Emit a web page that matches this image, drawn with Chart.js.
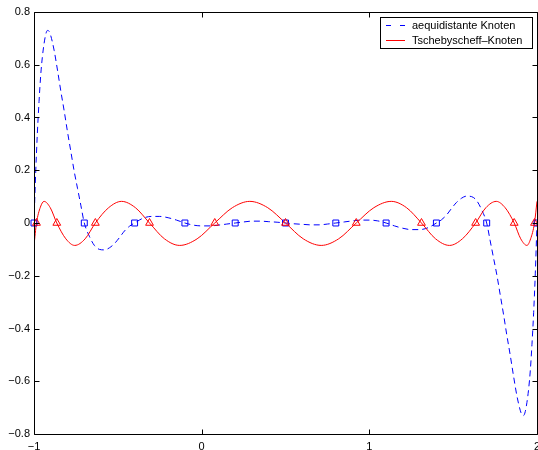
<!DOCTYPE html>
<html lang="de">
<head>
  <meta charset="UTF-8">
  <title>Interpolationsfehler</title>
  <script src="https://cdn.jsdelivr.net/npm/chart.js"></script>
</head>
<style>
  body {
      margin: 0;
      background: #fff;
  }

  #box {
      width: 538px;
      height: 450px;
  }
</style>

<body>
  <div id="box"><canvas id="grafico"></canvas></div>

<script>

  // Fehlerkurve bei aequidistanten Knoten
  const xAequi = [-1, -0.99, -0.98, -0.97, -0.96, -0.95, -0.94, -0.93, -0.92, -0.91, -0.9,
    -0.88, -0.86, -0.84, -0.82, -0.8, -0.78, -0.76, -0.74, -0.72, -0.7,
    -0.67, -0.64, -0.61, -0.58, -0.55, -0.52, -0.49, -0.46, -0.43, -0.4,
    -0.35, -0.3, -0.25, -0.2, -0.15, -0.1, -0.05, 0, 0.05, 0.1, 0.15, 0.2,
    0.25, 0.3, 0.35, 0.4, 0.45, 0.5, 0.55, 0.6, 0.65, 0.7, 0.75, 0.8,
    0.85, 0.9, 0.95, 1, 1.05, 1.1, 1.15, 1.2, 1.25, 1.3, 1.35, 1.4,
    1.43, 1.46, 1.49, 1.52, 1.55, 1.58, 1.61, 1.64, 1.67, 1.7,
    1.72, 1.74, 1.76, 1.78, 1.8, 1.82, 1.84, 1.86, 1.88, 1.9,
    1.91, 1.92, 1.93, 1.94, 1.95, 1.96, 1.97, 1.98, 1.99, 2];
  const yAequi = [0, 0.19, 0.34, 0.46, 0.56, 0.63, 0.68, 0.715, 0.73, 0.727, 0.71,
    0.655, 0.58, 0.5, 0.425, 0.345, 0.27, 0.195, 0.13, 0.065, 0,
    -0.05, -0.085, -0.1, -0.102, -0.094, -0.078, -0.055, -0.03, -0.012, 0,
    0.018, 0.025, 0.025, 0.02, 0.011, 0, -0.008, -0.011, -0.011, -0.008, -0.004, 0,
    0.004, 0.007, 0.007, 0.005, 0.003, 0, -0.003, -0.005, -0.007, -0.007, -0.004, 0,
    0.004, 0.008, 0.011, 0.011, 0.008, 0, -0.011, -0.02, -0.025, -0.025, -0.018, 0,
    0.012, 0.03, 0.055, 0.078, 0.094, 0.102, 0.1, 0.085, 0.05, 0,
    -0.065, -0.13, -0.195, -0.27, -0.345, -0.425, -0.5, -0.58, -0.655, -0.71,
    -0.727, -0.73, -0.715, -0.68, -0.63, -0.56, -0.46, -0.34, -0.19, 0];

  // Fehlerkurve bei Tschebyscheff-Knoten
  const xTscheb = [-1, -0.985, -0.962, -0.94, -0.903, -0.864, -0.81, -0.757, -0.695, -0.634,
    -0.555, -0.478, -0.395, -0.311, -0.222, -0.131, -0.027, 0.078, 0.183, 0.287,
    0.394, 0.5, 0.606, 0.713, 0.817, 0.922, 1.027, 1.131, 1.222, 1.311,
    1.395, 1.478, 1.555, 1.634, 1.695, 1.757, 1.81, 1.864, 1.903, 1.94,
    1.962, 1.985, 2];
  const yTscheb = [-0.085, 0, 0.06, 0.082, 0.058, 0, -0.06, -0.085, -0.06, 0,
    0.058, 0.082, 0.058, 0, -0.06, -0.085, -0.06, 0, 0.058, 0.082,
    0.058, 0, -0.06, -0.085, -0.06, 0, 0.058, 0.082, 0.058, 0,
    -0.06, -0.085, -0.06, 0, 0.058, 0.082, 0.058, 0, -0.06, -0.085,
    -0.06, 0, 0.082];

  // Knoten
  const knotenAequi = [-1, -0.7, -0.4, -0.1, 0.2, 0.5, 0.8, 1.1, 1.4, 1.7, 2];
  const knotenTscheb = [-0.985, -0.864, -0.634, -0.311, 0.078, 0.5, 0.922, 1.311, 1.634, 1.864, 1.985];

  const xTicks = [-1, 0, 1, 2];
  const yTicks = [-0.8, -0.6, -0.4, -0.2, 0, 0.2, 0.4, 0.6, 0.8];
  const legende = ['aequidistante Knoten', 'Tschebyscheff\u2013Knoten'];

  const pontos = (xs, ys) => xs.map((v, i) => ({ x: v, y: ys[i] }));
  const naNull = (xs) => xs.map(v => ({ x: v, y: 0 }));
  const fmt = (v) => {
    const r = Math.round(v * 10) / 10;
    return r === 0 ? '0' : String(r).replace('-', '\u2212');
  };

  // Rahmen, Striche nach innen und Legende im Stil von Matlab
  const rahmen = {
    id: 'rahmen',
    afterDraw(chart) {
      const { ctx, chartArea: a, scales: { x, y } } = chart;
      ctx.save();
      ctx.strokeStyle = '#000';
      ctx.lineWidth = 1;
      ctx.setLineDash([]);
      const l = a.left + 0.5, r = a.right + 0.5, t = a.top + 0.5, b = a.bottom + 0.5;
      ctx.beginPath();
      ctx.rect(l, t, r - l, b - t);
      xTicks.forEach(v => {
        const px = Math.round(x.getPixelForValue(v)) + 0.5;
        ctx.moveTo(px, b); ctx.lineTo(px, b - 5);
        ctx.moveTo(px, t); ctx.lineTo(px, t + 5);
      });
      yTicks.forEach(v => {
        const py = Math.round(y.getPixelForValue(v)) + 0.5;
        ctx.moveTo(l, py); ctx.lineTo(l + 5, py);
        ctx.moveTo(r, py); ctx.lineTo(r - 5, py);
      });
      ctx.stroke();

      // Legende
      ctx.fillStyle = '#fff';
      ctx.fillRect(380.5, 17.5, 152, 31);
      ctx.strokeRect(380.5, 17.5, 152, 31);
      ctx.font = '11px "Liberation Sans", Arial, sans-serif';
      ctx.textBaseline = 'middle';
      const farben = ['#0000ff', '#ff0000'];
      const striche = [[5, 9], []];
      legende.forEach((txt, i) => {
        const yy = 25.5 + i * 15;
        ctx.strokeStyle = farben[i];
        ctx.setLineDash(striche[i]);
        ctx.beginPath();
        ctx.moveTo(386, yy); ctx.lineTo(405, yy);
        ctx.stroke();
        ctx.fillStyle = '#000';
        ctx.fillText(txt, 412, yy);
      });
      ctx.restore();
    }
  };

  const ctx = document.getElementById('grafico').getContext('2d');

  new Chart(ctx, {
    type: 'line',
    data: {
      datasets: [{
        label: 'aequidistante Knoten',
        data: pontos(xAequi, yAequi),
        borderColor: '#0000ff',
        borderWidth: 1,
        borderDash: [6, 4],
        pointRadius: 0,
        cubicInterpolationMode: 'monotone',
        order: 3
      }, {
        label: 'Tschebyscheff-Knoten',
        data: pontos(xTscheb, yTscheb),
        borderColor: '#ff0000',
        borderWidth: 1,
        pointRadius: 0,
        cubicInterpolationMode: 'monotone',
        order: 2
      }, {
        label: 'Knoten aequi',
        data: naNull(knotenAequi),
        showLine: false,
        pointStyle: 'rect',
        pointRadius: 4.2,
        pointBorderWidth: 1,
        pointBorderColor: '#0000ff',
        pointBackgroundColor: 'rgba(0,0,0,0)',
        clip: false,
        order: 1
      }, {
        label: 'Knoten Tscheb',
        data: naNull(knotenTscheb),
        showLine: false,
        pointStyle: 'triangle',
        pointRadius: 4.5,
        pointBorderWidth: 1,
        pointBorderColor: '#ff0000',
        pointBackgroundColor: 'rgba(0,0,0,0)',
        clip: false,
        order: 0
      }]
    },
    options: {
      responsive: true,
      maintainAspectRatio: false,
      devicePixelRatio: 1,
      animation: false,
      layout: { autoPadding: false, padding: { top: 12, right: 1, left: 0, bottom: 0 } },
      plugins: {
        legend: { display: false },
        tooltip: { enabled: false }
      },
      scales: {
        x: {
          type: 'linear',
          min: -1,
          max: 2,
          grid: { display: false, drawTicks: false },
          border: { display: false },
          afterBuildTicks: (s) => { s.ticks = xTicks.map(v => ({ value: v })); },
          afterFit: (s) => { s.height = 16; s.paddingLeft = 0; s.paddingRight = 0; },
          ticks: {
            padding: 6,
            maxRotation: 0,
            color: '#000',
            font: { family: '"Liberation Sans", Arial, sans-serif', size: 11 },
            callback: fmt
          }
        },
        y: {
          type: 'linear',
          min: -0.8,
          max: 0.8,
          grid: { display: false, drawTicks: false },
          border: { display: false },
          afterBuildTicks: (s) => { s.ticks = yTicks.map(v => ({ value: v })); },
          afterFit: (s) => { s.width = 34; s.paddingTop = 0; s.paddingBottom = 0; },
          ticks: {
            padding: 4,
            color: '#000',
            font: { family: '"Liberation Sans", Arial, sans-serif', size: 11 },
            callback: fmt
          }
        }
      }
    },
    plugins: [rahmen]
  });

</script>
</body>
</html>
